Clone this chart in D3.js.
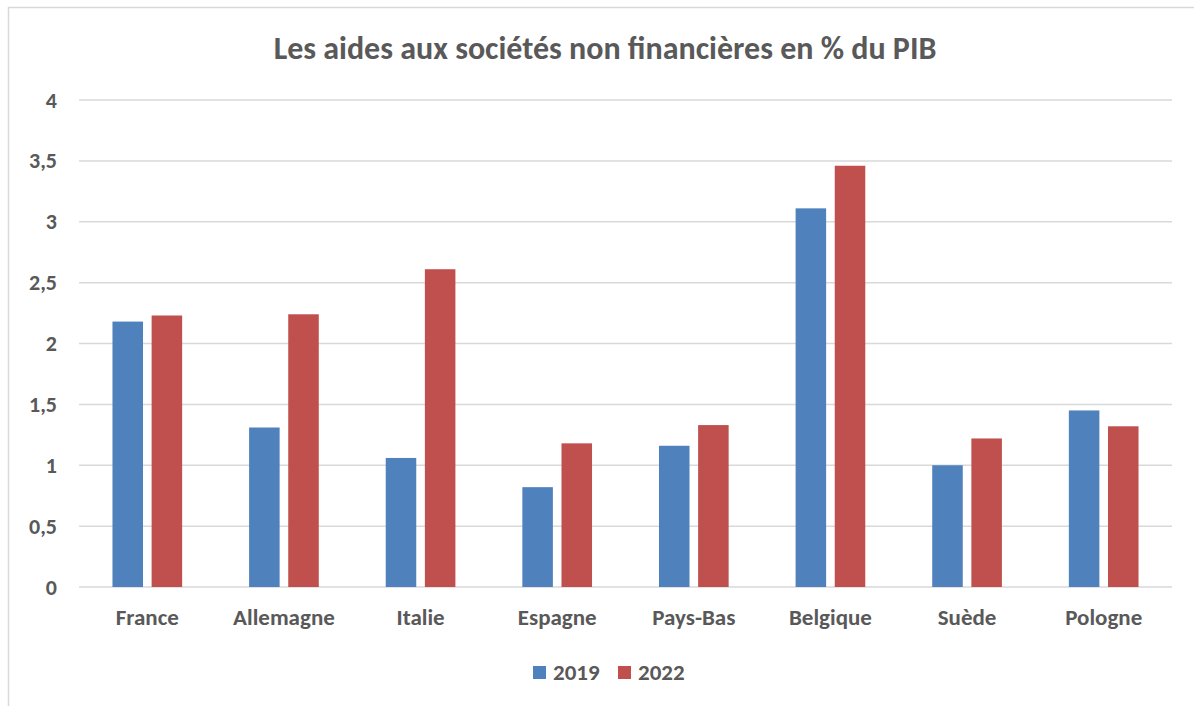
<!DOCTYPE html>
<html>
<head>
<meta charset="utf-8">
<script src="https://cdn.jsdelivr.net/npm/d3@7"></script>
<style>
  body { margin: 0; background: #fff; }
  svg text { font-family: Carlito, Lato, "Open Sans", sans-serif; font-weight: bold; fill: #595959; }
</style>
</head>
<body>
<div id="chart"></div>
<script>
const countries = ['France', 'Allemagne', 'Italie', 'Espagne', 'Pays-Bas', 'Belgique', 'Suède', 'Pologne'];
const seriesNames = ['2019', '2022'];
const values2019 = [2.18, 1.31, 1.06, 0.82, 1.16, 3.11, 1.00, 1.45];
const values2022 = [2.23, 2.24, 2.61, 1.18, 1.33, 3.46, 1.22, 1.32];
const yTicks = [0, 0.5, 1, 1.5, 2, 2.5, 3, 3.5, 4];
const colors = ['#4F81BD', '#C0504D'];

const width = 1194, height = 706;
const margin = {top: 100, right: 22, bottom: 119, left: 79};

const svg = d3.select('#chart').append('svg')
    .attr('width', width)
    .attr('height', height);

// chart border
svg.append('rect')
    .attr('x', 8.5).attr('y', 7.5)
    .attr('width', width).attr('height', height)
    .attr('fill', 'none')
    .attr('stroke', '#d9d9d9')
    .attr('stroke-width', 1.5);

const x0 = d3.scaleBand()
    .domain(countries)
    .range([margin.left, width - margin.right])
    .paddingInner(0.49)
    .paddingOuter(0.245);

const x1 = d3.scaleBand()
    .domain(seriesNames)
    .range([0, x0.bandwidth()])
    .paddingInner(0.22);

const y = d3.scaleLinear()
    .domain([0, 4])
    .range([height - margin.bottom, margin.top]);

// gridlines
svg.append('g')
  .selectAll('line')
  .data(yTicks)
  .join('line')
    .attr('x1', margin.left)
    .attr('x2', width - margin.right)
    .attr('y1', d => y(d))
    .attr('y2', d => y(d))
    .attr('stroke', '#d9d9d9')
    .attr('stroke-width', 1.5);

// y axis labels
const fmt = d => String(d).replace('.', ',');
svg.append('g')
    .attr('transform', 'translate(' + (margin.left - 22) + ',0)')
    .call(d3.axisLeft(y).tickValues(yTicks).tickFormat(fmt).tickSize(0).tickPadding(0))
    .call(g => g.select('.domain').remove())
    .selectAll('text')
    .attr('font-size', '22px')
    .style('font-family', 'Carlito, Lato, "Open Sans", sans-serif');

// x axis labels
svg.append('g')
    .attr('transform', 'translate(0,' + (height - margin.bottom) + ')')
    .call(d3.axisBottom(x0).tickSize(0).tickPadding(22))
    .call(g => g.select('.domain').remove())
    .selectAll('text')
    .attr('font-size', '23px')
    .style('font-family', 'Carlito, Lato, "Open Sans", sans-serif');

// bars
const rows = countries.map((c, i) => ({country: c, vals: [values2019[i], values2022[i]]}));
const groups = svg.append('g')
  .selectAll('g')
  .data(rows)
  .join('g')
    .attr('transform', d => 'translate(' + x0(d.country) + ',0)');

groups.selectAll('rect')
  .data(d => d.vals.map((v, j) => ({key: seriesNames[j], v: v, j: j})))
  .join('rect')
    .attr('x', d => x1(d.key))
    .attr('width', x1.bandwidth())
    .attr('y', d => y(d.v))
    .attr('height', d => y(0) - y(d.v))
    .attr('fill', d => colors[d.j]);

// title
svg.append('text')
    .attr('x', 605)
    .attr('y', 59)
    .attr('text-anchor', 'middle')
    .attr('font-size', '32px')
    .text('Les aides aux sociétés non financières en % du PIB');

// legend
const legendX = [533, 618];
const legend = svg.append('g')
  .selectAll('g')
  .data(seriesNames)
  .join('g')
    .attr('transform', (d, i) => 'translate(' + legendX[i] + ',666)');

legend.append('rect')
    .attr('width', 13)
    .attr('height', 13)
    .attr('fill', (d, i) => colors[i]);

legend.append('text')
    .attr('x', 20)
    .attr('y', 14)
    .attr('font-size', '23px')
    .text(d => d);
</script>
</body>
</html>
